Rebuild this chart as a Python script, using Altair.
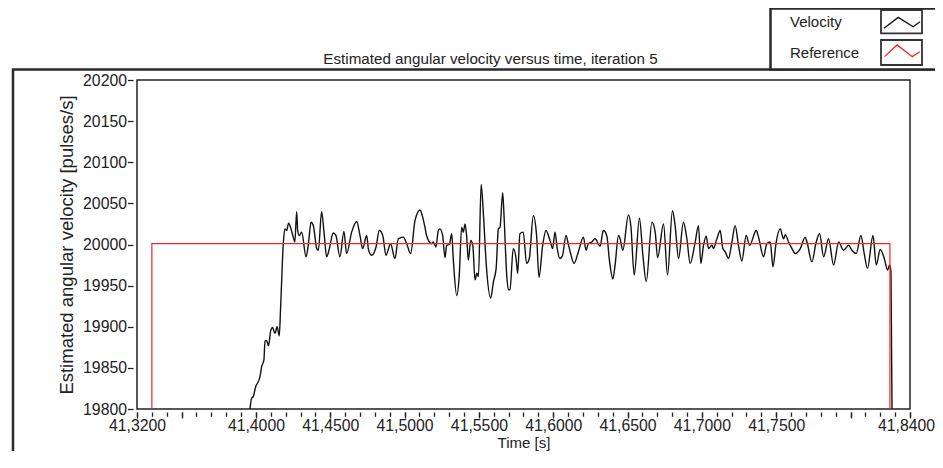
import altair as alt
import pandas as pd

# ---------------- data ----------------
time_s = [
    41.3955, 41.3971, 41.3982, 41.4000, 41.4009, 41.4027, 41.4038, 41.4054, 41.4061, 41.4072,
    41.4085, 41.4099, 41.4112, 41.4128, 41.4143, 41.4157, 41.4166, 41.4184, 41.4195, 41.4207,
    41.4220, 41.4236, 41.4251, 41.4262, 41.4274, 41.4281, 41.4291, 41.4308, 41.4337, 41.4352,
    41.4371, 41.4386, 41.4409, 41.4420, 41.4442, 41.4458, 41.4476, 41.4494, 41.4520, 41.4538,
    41.4565, 41.4592, 41.4610, 41.4644, 41.4678, 41.4700, 41.4718, 41.4745, 41.4758, 41.4779,
    41.4808, 41.4830, 41.4853, 41.4875, 41.4906, 41.4935, 41.4958, 41.4991, 41.5014, 41.5041,
    41.5070, 41.5104, 41.5122, 41.5137, 41.5148, 41.5182, 41.5193, 41.5211, 41.5227, 41.5238,
    41.5256, 41.5272, 41.5283, 41.5301, 41.5317, 41.5328, 41.5351, 41.5368, 41.5384, 41.5395,
    41.5407, 41.5418, 41.5429, 41.5445, 41.5459, 41.5474, 41.5486, 41.5497, 41.5515, 41.5531,
    41.5549, 41.5579, 41.5598, 41.5616, 41.5631, 41.5642, 41.5660, 41.5669, 41.5687, 41.5698,
    41.5709, 41.5731, 41.5750, 41.5761, 41.5776, 41.5798, 41.5821, 41.5839, 41.5866, 41.5888,
    41.5904, 41.5929, 41.5951, 41.5978, 41.5996, 41.6012, 41.6027, 41.6045, 41.6063, 41.6086,
    41.6101, 41.6117, 41.6140, 41.6169, 41.6203, 41.6221, 41.6236, 41.6259, 41.6281, 41.6315,
    41.6337, 41.6360, 41.6378, 41.6401, 41.6416, 41.6439, 41.6450, 41.6468, 41.6506, 41.6522,
    41.6545, 41.6580, 41.6603, 41.6626, 41.6664, 41.6686, 41.6702, 41.6742, 41.6769, 41.6802,
    41.6820, 41.6843, 41.6876, 41.6899, 41.6921, 41.6955, 41.6977, 41.6993, 41.7011, 41.7029,
    41.7045, 41.7068, 41.7078, 41.7101, 41.7123, 41.7141, 41.7157, 41.7179, 41.7202, 41.7224,
    41.7246, 41.7269, 41.7298, 41.7321, 41.7366, 41.7381, 41.7415, 41.7437, 41.7460, 41.7478,
    41.7500, 41.7527, 41.7549, 41.7561, 41.7583, 41.7606, 41.7628, 41.7662, 41.7695, 41.7707,
    41.7740, 41.7769, 41.7792, 41.7819, 41.7852, 41.7886, 41.7920, 41.7953, 41.7987, 41.8009,
    41.8038, 41.8070, 41.8092, 41.8114, 41.8151, 41.8173, 41.8200, 41.8227, 41.8249, 41.8263,
    41.8272, 41.8279, 41.8281,
]
velocity = [
    19790, 19813, 19815, 19828, 19831, 19839, 19851, 19860, 19883, 19883,
    19877, 19895, 19899, 19892, 19900, 19889, 19923, 20001, 20019, 20017,
    20026, 20019, 20009, 20003, 20040, 20017, 20011, 20015, 19985, 19999,
    20027, 20023, 19995, 19993, 20040, 20015, 19985, 19995, 20014, 20011,
    19985, 20016, 19989, 20015, 20028, 20011, 19995, 20011, 19993, 19987,
    19997, 20017, 20011, 19987, 20001, 19983, 20007, 20009, 20001, 19989,
    20029, 20042, 20033, 20021, 20011, 20001, 20003, 19997, 20017, 20019,
    20011, 19984, 19999, 20000, 20013, 19981, 19938, 19963, 20021, 20015,
    20025, 20009, 19981, 20005, 19999, 19957, 19965, 19961, 20073, 20035,
    19977, 19935, 19955, 19971, 20019, 20021, 20063, 20035, 19963, 19945,
    19945, 19995, 19983, 19965, 20013, 20015, 19977, 19983, 20035, 20011,
    19960, 19999, 20017, 20005, 19995, 20015, 19995, 19983, 19987, 20011,
    20001, 19989, 19977, 19991, 20009, 19993, 20001, 20003, 20007, 19998,
    20017, 20011, 19981, 19958, 19975, 20011, 20007, 19993, 20036, 20023,
    19963, 20032, 19987, 19955, 20027, 20015, 19984, 20025, 19963, 20041,
    20023, 19983, 20027, 20007, 19977, 20003, 20023, 19977, 19999, 20010,
    19995, 19999, 19995, 20007, 20017, 19995, 19991, 19983, 20003, 20023,
    19999, 19980, 20011, 19999, 20017, 20009, 19985, 20001, 20003, 19973,
    20003, 20019, 20007, 20012, 20003, 19995, 19989, 19995, 20009, 20003,
    19979, 20003, 20013, 19985, 20007, 19975, 20003, 19993, 19999, 19993,
    19989, 20011, 19989, 19971, 20011, 19975, 19994, 19983, 19969, 19975,
    19967, 19799, 19700,
]

ref_time = [41.3300, 41.3300, 41.8265, 41.8265]
ref_value = [19700, 20001, 20001, 19700]

x_minor_ticks = [
    41.32, 41.33, 41.34, 41.35, 41.36, 41.37, 41.38, 41.39, 41.40, 41.41,
    41.42, 41.43, 41.44, 41.45, 41.46, 41.47, 41.48, 41.49, 41.50, 41.51,
    41.52, 41.53, 41.54, 41.55, 41.56, 41.57, 41.58, 41.59, 41.60, 41.61,
    41.62, 41.63, 41.64, 41.65, 41.66, 41.67, 41.68, 41.69, 41.70, 41.71,
    41.72, 41.73, 41.74, 41.75, 41.76, 41.77, 41.78, 41.79, 41.80, 41.81,
    41.82, 41.83, 41.84,
]
x_major_ticks = [41.32, 41.35, 41.40, 41.45, 41.50, 41.55, 41.60, 41.65,
                 41.70, 41.75, 41.80, 41.84]
x_unlabelled = [41.35, 41.80]
y_ticks = [19800, 19850, 19900, 19950, 20000, 20050, 20100, 20150, 20200]

legend_labels = ["Velocity", "Reference"]
legend_colors = ["#111111", "#f52525"]

title_text = ["Estimated angular velocity versus time, iteration 5"]
x_title = "Time [s]"
y_title = "Estimated angular velocity [pulses/s]"

# ---------------- chart ----------------
FONT = "Liberation Sans, Arial, sans-serif"
TXT = "#222222"

vel_df = pd.DataFrame({"t": time_s, "v": velocity, "i": range(len(time_s))})
ref_df = pd.DataFrame({"t": ref_time, "v": ref_value, "i": range(len(ref_time))})

x_scale = alt.Scale(domain=[41.32, 41.84], nice=False, zero=False)
y_scale = alt.Scale(domain=[19800, 20200], nice=False, zero=False)

unl = " || ".join(f"abs(datum.value - {u}) < 1e-6" for u in x_unlabelled)
label_expr = f"({unl}) ? '' : replace(format(datum.value, '.4f'), '.', ',')"

y_axis = alt.Axis(values=y_ticks, format="d", tickSize=5.5, offset=4, domain=False,
                  grid=False, labelPadding=1, labelFont=FONT, labelFontSize=15.8,
                  labelColor=TXT, tickColor=TXT, tickWidth=1.3, title=y_title,
                  titleFont=FONT, titleFontSize=18.5, titleFontWeight="normal",
                  titleColor=TXT, titlePadding=6)

x_major_axis = alt.Axis(values=x_major_ticks, labelExpr=label_expr, tickSize=6,
                        offset=3, domain=False, grid=False, orient="bottom",
                        labelFlush=False, labelOverlap=False, labelPadding=0,
                        labelOffset={"condition": {"test": "datum.value > 41.835", "value": -4},
                                     "value": 0},
                        labelFont=FONT, labelFontSize=15.8, labelColor=TXT,
                        tickColor=TXT, tickWidth=1.3, title=x_title,
                        titleFont=FONT, titleFontSize=15, titleFontWeight="normal",
                        titleColor=TXT, titleY=35.5, titleBaseline="alphabetic")
x_minor_axis = alt.Axis(values=x_minor_ticks, labels=False, tickSize=4.3, offset=3,
                        domain=False, grid=False, orient="bottom", title=None,
                        tickColor=TXT, tickWidth=1.3)

vel_line = alt.Chart(vel_df).mark_line(color=legend_colors[0], strokeWidth=1.4, clip=True,
                                       interpolate="monotone").encode(
    x=alt.X("t:Q", scale=x_scale, axis=x_major_axis),
    y=alt.Y("v:Q", scale=y_scale, axis=y_axis),
    order="i:Q",
)
ref_line = alt.Chart(ref_df).mark_line(color=legend_colors[1], strokeWidth=1.2, clip=True).encode(
    x=alt.X("t:Q", scale=x_scale, axis=x_minor_axis),
    y=alt.Y("v:Q", scale=y_scale, axis=y_axis),
    order="i:Q",
)

one = pd.DataFrame({"k": [0]})

outer_frame = alt.Chart(one).mark_rect(fill="transparent", stroke="#2a2a2a", strokeWidth=2.5).encode(
    x=alt.value(-124), x2=alt.value(815), y=alt.value(-10.5), y2=alt.value(400))
legend_box = alt.Chart(one).mark_rect(fill="white", stroke="#2a2a2a", strokeWidth=2.5).encode(
    x=alt.value(633.5), x2=alt.value(815), y=alt.value(-71.5), y2=alt.value(-10.5))

title_mark = alt.Chart(pd.DataFrame({"title": title_text})).mark_text(
    align="center", baseline="alphabetic", font=FONT, fontSize=15.2, color=TXT
).encode(x=alt.value(353.5), y=alt.value(-16), text="title:N")

leg_layers = []
box_y = [(-70, -46.7), (-40, -15)]
text_y = [-52.7, -21.7]
sym_y = [-58.3, -27.5]
sym_paths = ["M-1,0.37L-0.21,-0.24L0.62,0.28L1,0",
             "M-0.97,0.23L-0.27,-0.42L0.57,0.23L0.99,-0.04"]
for k in range(2):
    ldf = pd.DataFrame({"label": [legend_labels[k]]})
    leg_layers.append(alt.Chart(ldf).mark_rect(fill="white", stroke="#333333", strokeWidth=1.8).encode(
        x=alt.value(744), x2=alt.value(785), y=alt.value(box_y[k][0]), y2=alt.value(box_y[k][1])))
    leg_layers.append(alt.Chart(ldf).mark_point(shape=sym_paths[k], size=1296, filled=False,
                                                 stroke=legend_colors[k], strokeWidth=1.3,
                                                 opacity=1).encode(
        x=alt.value(765), y=alt.value(sym_y[k])))
    leg_layers.append(alt.Chart(ldf).mark_text(align="left", baseline="alphabetic", font=FONT,
                                                fontSize=15, color=TXT).encode(
        x=alt.value(653), y=alt.value(text_y[k]), text="label:N"))

chart = alt.layer(vel_line, ref_line, outer_frame, legend_box, title_mark, *leg_layers).resolve_axis(
    x="independent"
).properties(
    width=773,
    height=329,
    autosize=alt.AutoSizeParams(type="none"),
    padding={"left": 129, "top": 72, "right": 25, "bottom": 42},
).configure_view(stroke="#222222", strokeWidth=1.5)

chart.save("out.html", embed_options={"renderer": "svg", "actions": False})
